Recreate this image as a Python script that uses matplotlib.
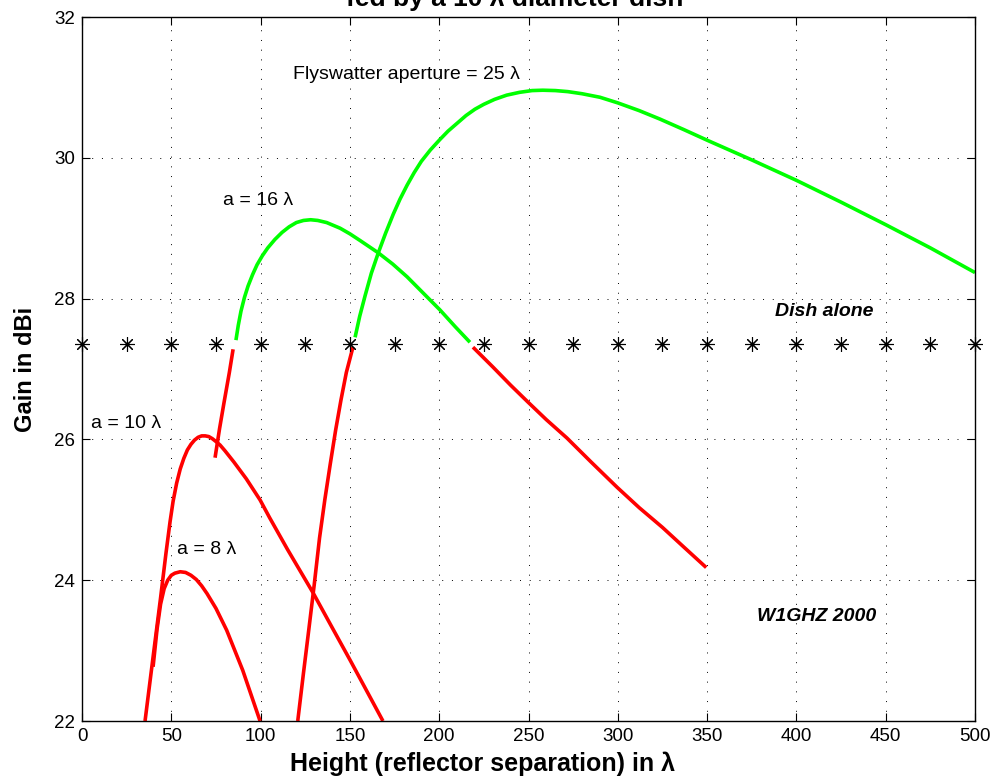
import matplotlib
matplotlib.use('Agg')
from matplotlib import pyplot as plt

plt.rcParams['font.family'] = ['Liberation Sans', 'DejaVu Sans']

# flyswatter aperture 25 lambda
a25_red_x = [120.8, 124, 127, 130, 133, 136, 139, 142, 145, 148, 151.7]
a25_red_y = [22.0, 22.68, 23.3, 23.93, 24.6, 25.15, 25.65, 26.13, 26.56, 26.95, 27.31]
a25_grn_x = [152.9, 155.5, 158.5, 162, 165.9, 170, 174.3, 178, 182, 186, 190, 195, 200.4,
             205, 210, 215, 220, 225, 231, 237.8, 245, 252, 258, 265, 272, 280, 290,
             300, 312, 323.6, 337, 350, 375, 400, 425, 450, 475, 500]
a25_grn_y = [27.45, 27.75, 28.04, 28.36, 28.65, 28.93, 29.2, 29.41, 29.61, 29.79, 29.95, 30.11, 30.26,
             30.38, 30.49, 30.6, 30.69, 30.76, 30.83, 30.89, 30.93, 30.955, 30.96, 30.955, 30.94, 30.91, 30.86,
             30.78, 30.67, 30.55, 30.4, 30.25, 29.97, 29.68, 29.37, 29.05, 28.72, 28.37]

# a = 16 lambda
a16_red1_x = [74.5, 77, 79.5, 82.5, 84.6]
a16_red1_y = [25.74, 26.15, 26.52, 26.95, 27.28]
a16_grn_x = [86.2, 87.5, 89, 91, 93, 95.5, 98, 101, 104, 108, 112, 116, 120, 124, 128,
             132, 137, 144.5, 150, 156, 165.9, 174, 182, 191, 200.4, 209, 217.2]
a16_grn_y = [27.41, 27.62, 27.82, 28.02, 28.18, 28.34, 28.48, 28.61, 28.72, 28.84, 28.94, 29.02, 29.08, 29.11, 29.12,
             29.11, 29.08, 29.0, 28.92, 28.82, 28.65, 28.49, 28.31, 28.08, 27.84, 27.6, 27.38]
a16_red2_x = [218.9, 230, 240, 249.7, 260, 271.5, 285, 299.6, 312, 325, 337, 349.5]
a16_red2_y = [27.31, 27.03, 26.77, 26.53, 26.28, 26.02, 25.68, 25.32, 25.03, 24.75, 24.47, 24.18]

# a = 10 lambda
a10_x = [35.3, 40, 44, 47, 49.3, 51, 53, 55, 57, 59, 61, 63, 65, 67, 69, 71, 73, 75, 77.3,
         80, 85, 92, 99.7, 105, 115, 129.4, 140, 150, 160, 168.5]
a10_y = [22.0, 22.95, 23.75, 24.38, 24.83, 25.12, 25.38, 25.58, 25.73, 25.85, 25.93, 25.99, 26.03, 26.05, 26.05, 26.04, 26.01, 25.97, 25.92,
         25.84, 25.68, 25.44, 25.14, 24.89, 24.44, 23.82, 23.33, 22.87, 22.4, 22.0]

# a = 8 lambda
a8_x = [39.8, 42, 44, 46, 48, 50, 52, 55, 58, 61, 64, 67, 70, 75, 81, 90, 99.7]
a8_y = [22.77, 23.3, 23.66, 23.88, 24.0, 24.07, 24.1, 24.12, 24.11, 24.07, 24.01, 23.92, 23.81, 23.6, 23.29, 22.72, 22.0]

# dish alone
dish_x = [0, 25, 50, 75, 100, 125, 150, 175, 200, 225, 250, 275, 300, 325, 350,
          375, 400, 425, 450, 475, 500]
dish_y = [27.35] * len(dish_x)

fig = plt.figure(figsize=(9.94, 7.82), dpi=100)
ax = fig.add_axes([82/994, 61/782, 893/994, 704/782])

red = '#ff0000'
grn = '#00ff00'
lw = 2.6
segs = [(a25_red_x, a25_red_y, red), (a25_grn_x, a25_grn_y, grn),
        (a16_red1_x, a16_red1_y, red), (a16_grn_x, a16_grn_y, grn),
        (a16_red2_x, a16_red2_y, red), (a10_x, a10_y, red), (a8_x, a8_y, red)]
for xs, ys, c in segs:
    ax.plot(xs, ys, color=c, lw=lw, solid_capstyle='butt', solid_joinstyle='round')
ax.plot(dish_x, dish_y, linestyle='none', marker=(8, 2, 0), ms=10.5, mew=0.8,
        color='black', clip_on=False, zorder=5)

ax.set_xlim(0, 500)
ax.set_ylim(22, 32)
ax.set_xticks([0, 50, 100, 150, 200, 250, 300, 350, 400, 450, 500])
ax.set_yticks([22, 24, 26, 28, 30, 32])
ax.grid(True, color='black', linestyle=(0, (1, 9)), lw=0.7)
ax.tick_params(direction='in', length=6, top=True, right=True, labelsize=13.5, pad=5)
for s in ax.spines.values():
    s.set_linewidth(1.0)

ax.set_xlabel('Height (reflector separation) in λ', fontsize=18, fontweight='bold')
ax.xaxis.set_label_coords((483 - 82) / 893, -0.043)
ax.set_ylabel('Gain in dBi', fontsize=17, fontweight='bold', labelpad=12)

ax.text(118, 31.18, 'Flyswatter aperture = 25 λ', fontsize=14, va='center')
ax.text(79, 29.4, 'a = 16 λ', fontsize=14, va='center')
ax.text(5, 26.23, 'a = 10 λ', fontsize=14, va='center')
ax.text(53.2, 24.43, 'a = 8 λ', fontsize=14, va='center')
ax.text(388, 27.81, 'Dish alone', fontsize=14, va='center', fontweight='bold', style='italic')
ax.text(378, 23.48, 'W1GHZ 2000', fontsize=14, va='center', fontweight='bold', style='italic')

fig.text(515/994, 1 - 6/782, 'fed by a 10 λ diameter dish', ha='center', va='baseline',
         fontsize=19, fontweight='bold')

fig.savefig('out.png', dpi=100)
